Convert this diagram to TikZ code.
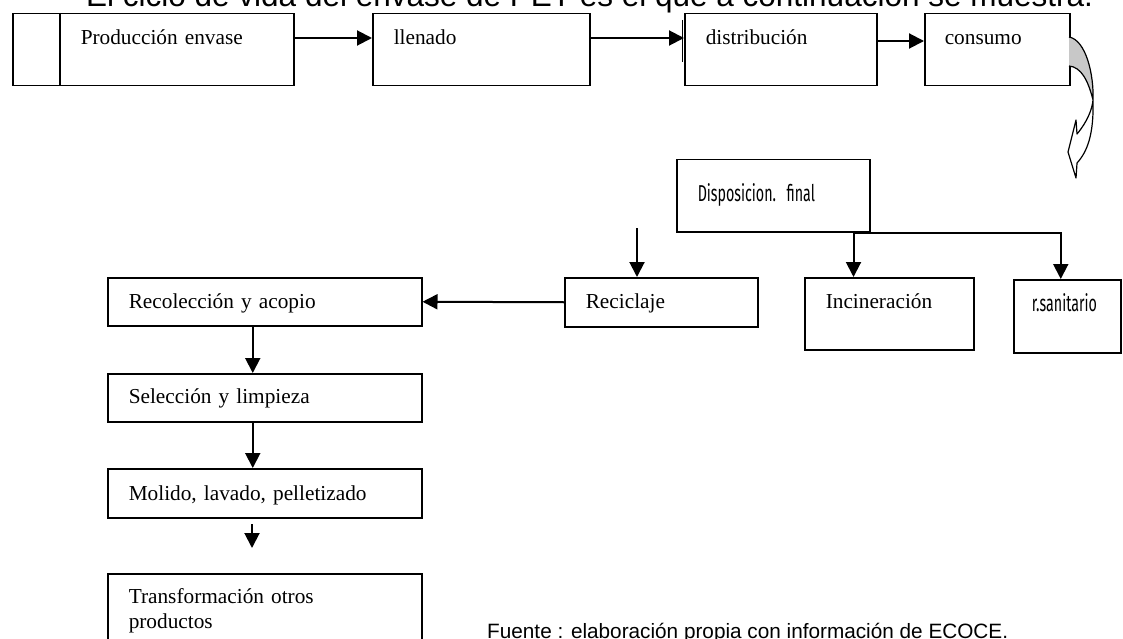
\documentclass[tikz,border=0pt]{standalone}
\usepackage{fontspec}
\setmainfont{Liberation Serif}
\newfontfamily\arial{Liberation Sans}
\newfontfamily\estrecha[FakeStretch=0.62]{Fira Sans}
\usetikzlibrary{arrows.meta}
\definecolor{sombra}{HTML}{C8C8C8}
\tikzset{
  caja/.style={draw,line width=1.5pt,inner xsep=0pt,inner ysep=0pt,anchor=north west,align=left,font=\fontsize{21.3}{25}\selectfont},
  flecha/.style={-{Triangle[length=15pt,width=15pt]},line width=2pt},
  curva/.style={line width=1.2pt,line join=round},
  rotulo/.style={anchor=base west,inner sep=0pt,font=\arial\fontsize{20.75}{24}\selectfont},
}
\newcommand{\caja}[8]{% nombre, x, y (esquina sup. izq.), ancho, alto, base del texto, margen, texto
  \node[caja,minimum width=#4pt,text width=\dimexpr#4pt-#7pt-#7pt\relax,
        text height=#6pt,text depth=\dimexpr#5pt-#6pt\relax] (#1) at (#2,#3) {#8};}
\newcommand{\angosto}{\estrecha\fontsize{23}{25}\selectfont}
\begin{document}
\begin{tikzpicture}[x=1pt,y=-1pt]
  \useasboundingbox (0,0) rectangle (1123,639);
  \clip (0,0) rectangle (1123,639);
  \node[rotulo,font=\arial\fontsize{31.5}{36}\selectfont] (titulo) at (86,7)
    {El ciclo de vida del envase de PET es el que a continuación se muestra.};
  % fila superior
  \caja{prod}{12}{13}{281}{72}{31}{20}{\hspace*{48pt}Producción envase}
  \caja{llen}{372}{13}{217}{72}{31}{21}{llenado}
  \caja{dist}{684}{13}{192}{72}{31}{21}{distribución}
  \caja{cons}{924}{13}{145}{72}{31}{20}{consumo}
  \draw[line width=1.5pt] ([xshift=48pt]prod.north west) -- ([xshift=48pt]prod.south west);
  \draw[line width=1.5pt] ([xshift=-1.5pt,yshift=-7pt]dist.north west) -- ([xshift=-1.5pt,yshift=-49pt]dist.north west);
  \draw[flecha] ([yshift=-25pt]prod.north east) -- ([yshift=-25pt]llen.north west);
  \draw[flecha] ([yshift=-25pt]llen.north east) -- ([yshift=-25pt]dist.north west);
  \draw[flecha] ([yshift=-28pt]dist.north east) -- ([yshift=-28pt]cons.north west);
  % flecha curva
  \coordinate (ca) at (1069,37);
  \coordinate (cx) at (1093,100);
  \coordinate (cc) at (1069,66);
  \coordinate (cr) at (1077,163);
  \coordinate (ct) at (1076,178);
  \coordinate (cw) at (1068,152);
  \coordinate (cl) at (1076,120);
  \coordinate (cn) at (1077,134);
  \fill[sombra] (ca) .. controls (1086,40) and (1094,75) .. (cx)
    .. controls (1088,80) and (1081,67) .. (cc) -- cycle;
  \draw[curva] (ca) .. controls (1086,40) and (1094,75) .. (cx)
    .. controls (1094,135) and (1087,152) .. (cr) -- (ct) -- (cw) -- (cl) -- (cn)
    .. controls (1087,122) and (1092,110) .. (cx)
    .. controls (1088,80) and (1081,67) .. (cc);
  % disposicion final
  \caja{disp}{676}{159}{193}{72}{42}{21}{\angosto Disposicion. final}
  \caja{recic}{564}{277}{193}{49}{31}{21}{Reciclaje}
  \caja{inc}{804}{277}{169}{72}{31}{21}{Incineración}
  \caja{san}{1013}{279}{107}{73}{32}{18}{\angosto r.sanitario}
  \draw[flecha] ([xshift=-17pt]disp.south east) -- ([xshift=-17pt]disp.south east |- inc.north);
  \draw[flecha] ([xshift=-17pt]disp.south east) -| ([xshift=-6.5pt]san.north);
  \coordinate (libre1) at (637,228);
  \draw[flecha] (libre1) -- (libre1 |- recic.north);
  % reciclaje
  \caja{recol}{107}{277}{314}{48}{31}{21}{Recolección y acopio}
  \caja{sel}{107}{373}{314}{48}{30}{21}{Selección y limpieza}
  \caja{mol}{107}{468}{314}{49}{32}{21}{Molido, lavado, pelletizado}
  \caja{trans}{107}{573}{314}{90}{30}{21}{Transformación otros\\productos}
  \draw[flecha] (recic.west) -- (recol.east);
  \draw[flecha] ([xshift=-12pt]recol.south) -- ([xshift=-12pt]sel.north);
  \draw[flecha] ([xshift=-12pt]sel.south) -- ([xshift=-12pt]mol.north);
  \coordinate (libre2) at (252,524);
  \coordinate (libre3) at (252,548);
  \draw[flecha] (libre2) -- (libre3);
  \node[rotulo] (fuente) at (487,638) {Fuente : elaboración propia con información de ECOCE.};
\end{tikzpicture}
\end{document}
